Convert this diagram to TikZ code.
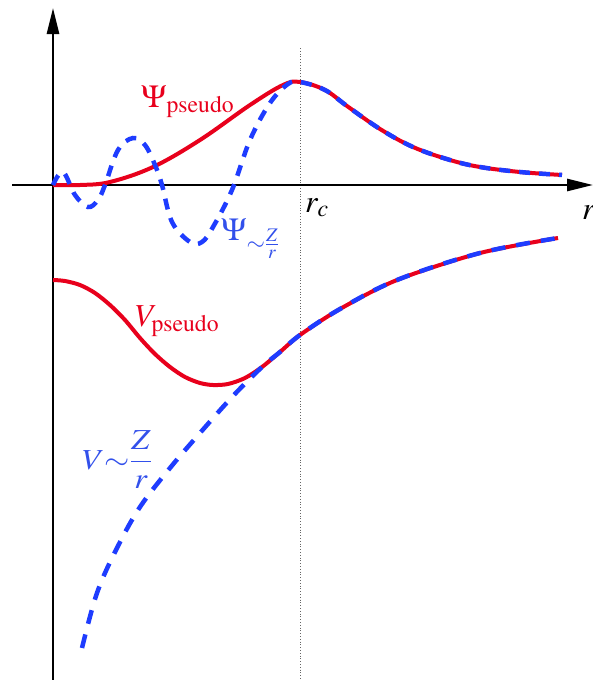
\documentclass[tikz,border=0pt]{standalone}
\usepackage{graphicx}
\usepackage{mathptmx}
\usetikzlibrary{arrows.meta}
\definecolor{cred}{RGB}{232,0,28}
\definecolor{cblue}{RGB}{30,60,255}
\definecolor{lblue}{RGB}{50,80,235}
\tikzset{
  axisline/.style={line width=2.8pt,-{Triangle[length=26pt,width=12pt]}},
  redcurve/.style={cred,line width=4pt},
  bluedash/.style={cblue,line width=4.5pt,dash pattern=on 11pt off 9pt},
  bluedashV/.style={cblue,line width=4.5pt,dash pattern=on 14pt off 11pt},
  lbl/.style={inner sep=0pt,font=\fontsize{32}{36}\selectfont},
  lblmid/.style={inner sep=0pt,font=\fontsize{29}{32}\selectfont},
}
\begin{document}
\begin{tikzpicture}[x=1pt,y=-1pt]
\useasboundingbox (0,0) rectangle (592,680);
% dotted r_c line
\coordinate (rctop) at (300,48);
\coordinate (rcbot) at (300,680);
\draw[gray!80!black,line width=0.8pt,dotted] (rctop) -- (rcbot);
% axes
\coordinate (ybot) at (53,680);
\coordinate (ytop) at (53,8);
\coordinate (xl) at (12,185);
\coordinate (xr) at (593,185);
\draw[axisline] (ybot) -- (ytop);
\draw[axisline] (xl) -- (xr);
% Psi pseudo (red)
\draw[redcurve] plot[smooth,tension=0.6] coordinates {(53,185) (80,185) (110,182) (153,167) (200,140) (250,105) (283,85) (300,82) (325,90) (347,106) (380,129) (413,147) (450,160) (480,167) (520,172) (562,175)};
% Psi ~ Z/r (blue dashed)
\draw[bluedash] plot[smooth,tension=0.6] coordinates {(53,185) (63,172) (75,195) (88,207) (98,200) (105,185) (118,150) (133,138) (145,145) (155,165) (162,185) (172,222) (190,242) (202,242) (213,227) (232,190) (250,140) (270,103) (288,84) (300,82) (325,90) (347,106) (380,129) (413,147) (450,160) (480,167) (520,172) (562,175)};
% V pseudo (red)
\draw[redcurve] plot[smooth,tension=0.5] coordinates {(53,280) (65,281) (80,285) (95,293) (110,305) (125,320) (140,338) (155,354) (170,367) (185,377) (200,383) (213,385) (228,384) (245,378) (262,367) (280,352) (300,335) (340,309) (397,280) (480,253) (558,238)};
% V ~ Z/r (blue dashed)
\draw[bluedashV] plot[smooth,tension=0.6] coordinates {(82,648) (97,593) (117,548) (140,507) (170,468) (200,433) (233,396) (262,367) (280,352) (300,335) (340,309) (397,280) (480,253) (558,238)};
% labels
\node[lbl,cred,anchor=base west] (lpsip) at (141,107) {$\Psi_{\mathrm{pseudo}}$};
\node[lbl,lblue,anchor=base west] (lpsiz) at (221,240) {$\Psi_{\sim\frac{Z}{r}}$};
\node[lbl,cred,anchor=base west] (lvp) at (135,326) {$V_{\mathrm{pseudo}}$};
\node[lblmid,lblue,anchor=base west] (lvz) at (82,469) {\scalebox{1.12}[1]{$V{\sim}\displaystyle\frac{Z}{r}$}};
\node[lbl,anchor=base west] (lrc) at (305,212) {$r_c$};
\node[lbl,anchor=base west] (lr) at (582,219) {$r$};
\end{tikzpicture}
\end{document}
